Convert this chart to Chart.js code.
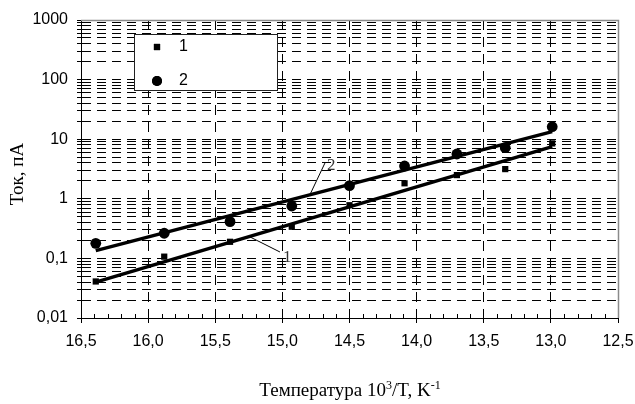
<!DOCTYPE html>
<html><head><meta charset="utf-8">
<script src="https://cdn.jsdelivr.net/npm/chart.js@4.4.0/dist/chart.umd.min.js"></script>
<style>html,body{margin:0;padding:0;background:#fff}</style>
</head><body>
<canvas id="c" width="635" height="404"></canvas>
<script>
// ---- data ----
const temperature = [16.39, 15.88, 15.39, 14.93, 14.50, 14.09, 13.70, 13.34, 12.99];
const current1    = [0.041, 0.107, 0.19, 0.34, 0.78, 1.82, 2.5, 3.15, 8.5];
const current2    = [0.179, 0.264, 0.413, 0.757, 1.66, 3.55, 5.65, 7.2, 16.2];
const fitTemperature = [16.39, 12.99];
const fitCurrent1 = [0.040, 7.5];
const fitCurrent2 = [0.135, 13.4];
const seriesNames = ['1', '2'];
const xTickValues = [12.5, 13.0, 13.5, 14.0, 14.5, 15.0, 15.5, 16.0, 16.5];
const yDecades = [0.01, 0.1, 1, 10, 100, 1000];
const yTitle = 'Ток, пА';
const xTitleParts = ['Температура 10', '3', '/T, K', '-1']; // base, sup, base, sup

// callout (leader line + label) anchors in data units
const callouts = [
  {text: '2', from: [14.794, 1.18], to: [14.683, 3.98], at: [14.668, 3.04]},
  {text: '1', from: [15.241, 0.229], to: [15.018, 0.128], at: [14.995, 0.087]}
];

const pts = (xs, ys) => xs.map((x, i) => ({x: x, y: ys[i]}));
const yTickValues = [];
yDecades.slice(0, -1).forEach(d => { for (let m = 1; m <= 9; m++) yTickValues.push(m * d); });
yTickValues.push(yDecades[yDecades.length - 1]);
const isDecade = v => yDecades.some(d => Math.abs(v - d) / d < 1e-6);

const SANS = "'Liberation Sans', Arial, sans-serif";
const SERIF = "'Liberation Serif', 'Times New Roman', serif";

const decor = {
  id: 'decor',
  afterDraw(chart) {
    const ctx = chart.ctx, a = chart.chartArea;
    const xs = chart.scales.x, ys = chart.scales.y;
    ctx.save();
    // top & right frame (grey)
    ctx.strokeStyle = '#8a8a8a'; ctx.lineWidth = 1.5;
    ctx.beginPath();
    ctx.moveTo(Math.round(a.left), Math.round(a.top) + 0.5);
    ctx.lineTo(Math.round(a.right) + 0.5, Math.round(a.top) + 0.5);
    ctx.lineTo(Math.round(a.right) + 0.5, Math.round(a.bottom));
    ctx.stroke();
    // minor x ticks (inside, upward)
    ctx.strokeStyle = '#000'; ctx.lineWidth = 1;
    for (let k = 126; k <= 164; k++) {
      if (k % 5 === 0) continue;
      const px = Math.round(xs.getPixelForValue(k / 10)) + 0.5;
      ctx.beginPath(); ctx.moveTo(px, a.bottom); ctx.lineTo(px, a.bottom - 4); ctx.stroke();
    }
    // callouts
    callouts.forEach(c => {
      const x1 = xs.getPixelForValue(c.from[0]), y1 = ys.getPixelForValue(c.from[1]);
      const x2 = xs.getPixelForValue(c.to[0]), y2 = ys.getPixelForValue(c.to[1]);
      ctx.strokeStyle = '#000'; ctx.lineWidth = 1;
      ctx.beginPath(); ctx.moveTo(x1, y1); ctx.lineTo(x2, y2); ctx.stroke();
      ctx.fillStyle = '#333'; ctx.font = '17px ' + SERIF;
      ctx.textAlign = 'left'; ctx.textBaseline = 'alphabetic';
      ctx.fillText(c.text, xs.getPixelForValue(c.at[0]), ys.getPixelForValue(c.at[1]));
    });
    // legend
    const lx = 134.5, ly = 34.5, lw = 143, lh = 56;
    ctx.fillStyle = '#fff'; ctx.fillRect(lx, ly, lw, lh);
    ctx.strokeStyle = '#222'; ctx.lineWidth = 1; ctx.strokeRect(lx, ly, lw, lh);
    const dsets = chart.data.datasets.filter(d => seriesNames.includes(d.label));
    dsets.forEach((d, i) => {
      const cy = i === 0 ? 47 : 81;
      ctx.fillStyle = '#000';
      Chart.helpers.drawPoint(ctx, {pointStyle: d.pointStyle, radius: d.pointStyle === 'rect' ? 4.4 : 5, borderWidth: 0, rotation: 0}, 157, cy);
      ctx.fill();
      ctx.font = '16px ' + SANS; ctx.textAlign = 'left'; ctx.textBaseline = 'middle';
      ctx.fillText(d.label, 179, cy);
    });
    // y title
    ctx.save();
    ctx.translate(23, 174); ctx.rotate(-Math.PI / 2);
    ctx.font = '19px ' + SERIF; ctx.fillStyle = '#000';
    ctx.textAlign = 'center'; ctx.textBaseline = 'alphabetic';
    ctx.fillText(yTitle, 0, 0);
    ctx.restore();
    // x title with superscripts
    const big = '19px ' + SERIF, small = '12px ' + SERIF;
    ctx.textAlign = 'left'; ctx.textBaseline = 'alphabetic'; ctx.fillStyle = '#000';
    const widths = xTitleParts.map((t, i) => { ctx.font = i % 2 ? small : big; return ctx.measureText(t).width; });
    let x = 350 - widths.reduce((s, w) => s + w, 0) / 2;
    const base = 396;
    xTitleParts.forEach((t, i) => {
      ctx.font = i % 2 ? small : big;
      ctx.fillText(t, x, i % 2 ? base - 7 : base);
      x += widths[i];
    });
    ctx.restore();
  }
};

new Chart(document.getElementById('c').getContext('2d'), {
  type: 'scatter',
  data: {
    datasets: [
      {label: seriesNames[0], data: pts(temperature, current1), pointStyle: 'rect', pointRadius: 4.4,
       backgroundColor: '#000', borderWidth: 0, showLine: false},
      {label: seriesNames[1], data: pts(temperature, current2), pointStyle: 'circle', pointRadius: 5.4,
       backgroundColor: '#000', borderWidth: 0, showLine: false},
      {label: 'fit1', data: pts(fitTemperature, fitCurrent1), showLine: true, pointRadius: 0,
       borderColor: '#000', borderWidth: 3.5, fill: false},
      {label: 'fit2', data: pts(fitTemperature, fitCurrent2), showLine: true, pointRadius: 0,
       borderColor: '#000', borderWidth: 3.5, fill: false}
    ]
  },
  options: {
    responsive: false, animation: false, devicePixelRatio: 1,
    layout: {padding: {top: 20, right: 17, left: 0, bottom: 0}},
    plugins: {legend: {display: false}, tooltip: {enabled: false}},
    scales: {
      x: {
        type: 'linear', reverse: true, min: 12.5, max: 16.5,
        afterBuildTicks: s => { s.ticks = xTickValues.map(v => ({value: v})); },
        afterFit: s => { s.height = 86; },
        ticks: {callback: v => Number(v).toFixed(1).replace('.', ','), color: '#000',
                font: {family: SANS, size: 16}, padding: 9, maxRotation: 0, autoSkip: false},
        grid: {color: c => (c.tick && (c.tick.value === 12.5 || c.tick.value === 16.5)) ? 'rgba(0,0,0,0)' : '#000',
               lineWidth: 1, tickLength: 5, tickColor: '#000', tickWidth: 1},
        border: {display: true, color: '#000', width: 1, dash: [10, 7]}
      },
      y: {
        type: 'logarithmic', min: 0.01, max: 1000,
        afterBuildTicks: s => { s.ticks = yTickValues.map(v => ({value: v})); },
        afterFit: s => { s.width = 81; },
        ticks: {callback: v => isDecade(v) ? String(Number(v)).replace('.', ',') : '', color: '#000',
                font: {family: SANS, size: 16}, padding: 9, autoSkip: false},
        grid: {color: c => (c.tick && (c.tick.value <= 0.01001 || c.tick.value >= 999)) ? 'rgba(0,0,0,0)' : '#000',
               lineWidth: 1, tickLength: 4, tickColor: '#000', tickWidth: 1},
        border: {display: true, color: '#000', width: 1, dash: [9, 6]}
      }
    }
  },
  plugins: [decor]
});
</script>
</body></html>
